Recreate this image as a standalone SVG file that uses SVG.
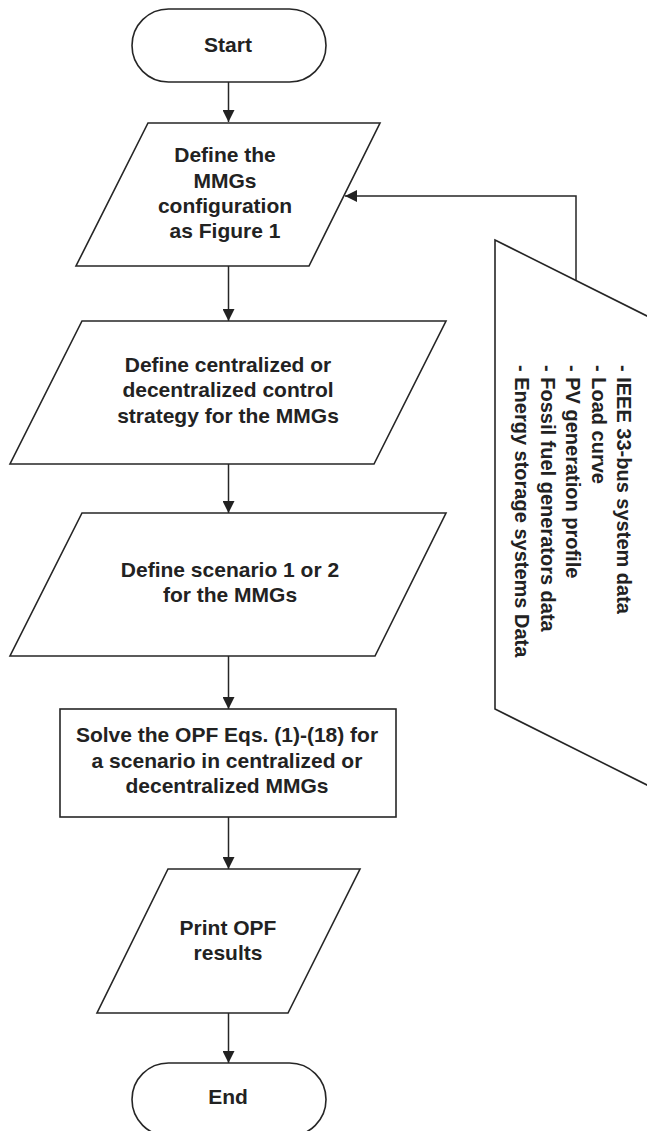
<svg xmlns="http://www.w3.org/2000/svg" width="647" height="1131" viewBox="0 0 647 1131">
<style>
.shape{fill:#fff;stroke:#262626;stroke-width:1.6}
.conn{fill:none;stroke:#262626;stroke-width:1.5}
.t{font-family:"Liberation Sans",Arial,sans-serif;font-weight:bold;font-size:21px;fill:#222;text-anchor:middle}
.s{font-family:"Liberation Sans",Arial,sans-serif;font-weight:bold;font-size:20px;fill:#222}
</style>
<defs>
<marker id="arr" markerUnits="userSpaceOnUse" markerWidth="12" markerHeight="12" refX="12" refY="6" orient="auto">
<path d="M0,0 L12,6 L0,12 z" fill="#222"/>
</marker>
</defs>
<rect width="647" height="1131" fill="#fff"/>
<g id="connectors">
<path class="conn" d="M228.5,82 V122" marker-end="url(#arr)"/>
<path class="conn" d="M228.5,266 V321" marker-end="url(#arr)"/>
<path class="conn" d="M228.5,464 V513" marker-end="url(#arr)"/>
<path class="conn" d="M228.5,656 V709" marker-end="url(#arr)"/>
<path class="conn" d="M228.5,817 V869" marker-end="url(#arr)"/>
<path class="conn" d="M228.5,1013 V1063" marker-end="url(#arr)"/>
<path class="conn" d="M576,280.5 V196 H345" marker-end="url(#arr)"/>
</g>
<g id="start">
<rect class="shape" x="132" y="9" width="194" height="73" rx="36.5" ry="36.5"/>
<text class="t" x="228" y="52">Start</text>
</g>
<g id="define-config">
<polygon class="shape" points="148,123 380,123 309,266 76,266"/>
<text class="t" x="225" y="162">Define the</text>
<text class="t" x="225" y="188">MMGs</text>
<text class="t" x="225" y="213">configuration</text>
<text class="t" x="225" y="238">as Figure 1</text>
</g>
<g id="input-data">
<polygon class="shape" points="495,240 760,372.5 760,841.5 495,709"/>
<text class="s" transform="translate(617,365) rotate(90)">- IEEE 33-bus system data</text>
<text class="s" transform="translate(592,365) rotate(90)">- Load curve</text>
<text class="s" transform="translate(566,365) rotate(90)">- PV generation profile</text>
<text class="s" transform="translate(541,365) rotate(90)">- Fossil fuel generators data</text>
<text class="s" transform="translate(515,365) rotate(90)">- Energy storage systems Data</text>
</g>
<g id="define-control">
<polygon class="shape" points="82,321 446,321 374,464 10,464"/>
<text class="t" x="228" y="372">Define centralized or</text>
<text class="t" x="228" y="397">decentralized control</text>
<text class="t" x="228" y="423">strategy for the MMGs</text>
</g>
<g id="define-scenario">
<polygon class="shape" points="82,513 446,513 375,656 10,656"/>
<text class="t" x="230" y="577">Define scenario 1 or 2</text>
<text class="t" x="230" y="602">for the MMGs</text>
</g>
<g id="solve-opf">
<rect class="shape" x="60" y="709" width="336" height="108"/>
<text class="t" x="227" y="742">Solve the OPF Eqs. (1)-(18) for</text>
<text class="t" x="227" y="768">a scenario in centralized or</text>
<text class="t" x="227" y="793">decentralized MMGs</text>
</g>
<g id="print-results">
<polygon class="shape" points="168,869 360,869 288,1013 97,1013"/>
<text class="t" x="228" y="935">Print OPF</text>
<text class="t" x="228" y="960">results</text>
</g>
<g id="end">
<rect class="shape" x="132" y="1063" width="194" height="73" rx="36.5" ry="36.5"/>
<text class="t" x="228" y="1104">End</text>
</g>
</svg>
